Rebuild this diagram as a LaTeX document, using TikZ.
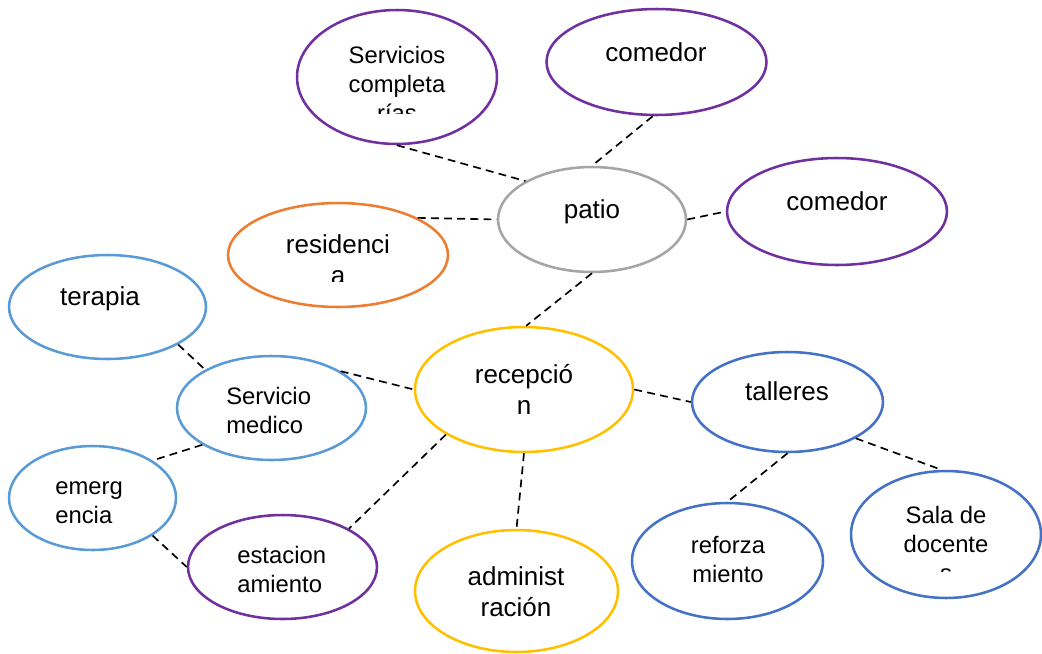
\documentclass[tikz,border=0pt]{standalone}
\usepackage{fontspec}
\setmainfont{Liberation Sans}
\usetikzlibrary{shapes.geometric}
\definecolor{violeta}{HTML}{7030A0}
\definecolor{gris}{HTML}{A5A5A5}
\definecolor{naranja}{HTML}{ED7D31}
\definecolor{celeste}{HTML}{5B9BD5}
\definecolor{oro}{HTML}{FFC000}
\definecolor{azul}{HTML}{4472C4}
\begin{document}
\begin{tikzpicture}[x=0.02cm, y=-0.02cm,
  burbuja/.style={draw, ellipse, line width=1.45pt, inner sep=0pt},
  grande/.style={font=\fontsize{14.8}{17.6}\selectfont, align=center, inner sep=0pt, anchor=base},
  chico/.style={font=\fontsize{13.55}{16.5}\selectfont, align=center, inner sep=0pt, anchor=base},
  chicoizq/.style={chico, align=left, anchor=base west},
  enlace/.style={dashed, line width=0.95pt, dash pattern=on 4.5pt off 3pt}]
\useasboundingbox (0,0) rectangle (1042,653);
\node[burbuja, violeta, minimum width=4cm, minimum height=2.68cm] (serv) at (397,77) {};
\node[burbuja, violeta, minimum width=4.4cm, minimum height=2.12cm] (comA) at (656.5,62) {};
\node[burbuja, gris, minimum width=3.76cm, minimum height=2.1cm] (patio) at (592,219.5) {};
\node[burbuja, naranja, minimum width=4.4cm, minimum height=2.08cm] (resid) at (338,255) {};
\node[burbuja, violeta, minimum width=4.4cm, minimum height=2.14cm] (comB) at (837,211.5) {};
\node[burbuja, celeste, minimum width=3.94cm, minimum height=2.08cm] (terapia) at (107.5,307) {};
\node[burbuja, celeste, minimum width=3.78cm, minimum height=2.08cm] (medico) at (271.5,408) {};
\node[burbuja, celeste, minimum width=3.34cm, minimum height=2.08cm] (emerg) at (92.5,498) {};
\node[burbuja, violeta, minimum width=3.78cm, minimum height=2.08cm] (estac) at (282.5,567) {};
\node[burbuja, oro, minimum width=4.36cm, minimum height=2.5cm] (recep) at (524,389.5) {};
\node[burbuja, oro, minimum width=4.06cm, minimum height=2.44cm] (admin) at (516.5,591) {};
\node[burbuja, azul, minimum width=3.82cm, minimum height=2cm] (talleres) at (787.5,402) {};
\node[burbuja, azul, minimum width=3.82cm, minimum height=2.32cm] (reforz) at (727.5,561) {};
\node[burbuja, azul, minimum width=3.8cm, minimum height=2.54cm] (sala) at (946,534.5) {};
\begin{scope}
\clip (297,0) rectangle (497,113);
\node[chico] (servT) at (397,121) {Servicios\\completa\\rías};
\end{scope}
\node[grande] (comAT) at (656,61) {comedor};
\node[grande] (patioT) at (592,218) {patio};
\begin{scope}
\clip (228,200) rectangle (448,281);
\node[grande] (residT) at (338,284) {residenci\\a};
\end{scope}
\node[grande] (comBT) at (837,210) {comedor};
\node[grande] (terapiaT) at (100,305) {terapia};
\node[chicoizq] (medicoT) at (226,433) {Servicio\\medico};
\node[chicoizq] (emergT) at (55,523) {emerg\\encia};
\node[chicoizq] (estacT) at (237,592) {estacion\\amiento};
\node[grande] (recepT) at (524,414) {recepció\\n};
\node[grande] (adminT) at (516,616) {administ\\ración};
\node[grande] (talleresT) at (787,400) {talleres};
\node[chico] (reforzT) at (728,582) {reforza\\miento};
\begin{scope}
\clip (851,470) rectangle (1041,571);
\node[chico] (salaT) at (946,581) {Sala de\\docente\\s};
\end{scope}
\draw[enlace] (serv.270) -- (patio.150);
\draw[enlace] (comA.266) -- (patio.90);
\draw[enlace] (resid.25) -- (patio.180);
\draw[enlace] (patio.0) -- (comB.180);
\draw[enlace] (patio.270) -- (recep.88);
\draw[enlace] (terapia.-28) -- (medico.150);
\draw[enlace] (medico.28) -- (recep.180);
\draw[enlace] (medico.208) -- (emerg.32);
\draw[enlace] (emerg.-32) -- (estac.180);
\draw[enlace] (recep.210) -- (estac.30);
\draw[enlace] (recep.270) -- (admin.90);
\draw[enlace] (recep.0) -- (talleres.180);
\draw[enlace] (talleres.270) -- (reforz.90);
\draw[enlace] (talleres.-28) -- (sala.94);
\end{tikzpicture}
\end{document}
